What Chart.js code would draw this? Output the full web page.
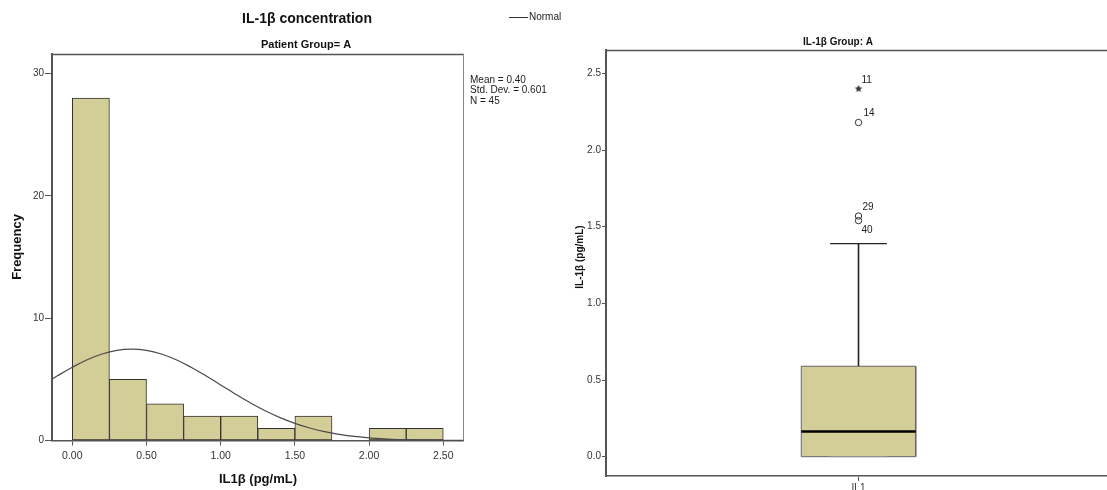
<!DOCTYPE html>
<html><head><meta charset="utf-8">
<script src="https://cdn.jsdelivr.net/npm/chart.js@4.4.0/dist/chart.umd.min.js"></script>
<style>
html,body{margin:0;padding:0;background:#fff;width:1107px;height:490px;overflow:hidden;position:relative}
#c1{position:absolute;left:0;top:0}
#c2{position:absolute;left:540px;top:0}
</style></head><body>
<canvas id="c1" width="600" height="490"></canvas>
<canvas id="c2" width="573" height="490"></canvas>
<script>
// ---------- Histogram data ----------
const binStarts   = [0, 0.25, 0.5, 0.75, 1.0, 1.25, 1.5, 1.75, 2.0, 2.25];
const binWidth    = 0.25;
const frequencies = [28, 5, 3, 2, 2, 1, 2, 0, 1, 1];
const curveX = [-0.15,-0.1,0,0.1,0.2,0.3,0.4,0.5,0.6,0.7,0.8,0.9,1.0,1.1,1.2,1.3,1.4,1.5,1.6,1.7,1.8,1.9,2.0,2.1,2.2,2.3,2.4,2.5,2.6,2.65];
const curveY = [4.91,5.29,5.99,6.60,7.07,7.37,7.47,7.37,7.07,6.60,5.99,5.29,4.54,3.79,3.08,2.43,1.87,1.40,1.02,0.72,0.50,0.33,0.22,0.14,0.08,0.05,0.03,0.02,0.01,0.01];
const xTickValues = [0, 0.5, 1, 1.5, 2, 2.5];
const xTickLabels = ['0.00','0.50','1.00','1.50','2.00','2.50'];
const yTickValues = [0, 10, 20, 30];
const statsLines  = ['Mean = 0.40', 'Std. Dev. = 0.601', 'N = 45'];

// ---------- Boxplot data ----------
const boxCategory  = ['IL1'];
const q1 = 0.0, median = 0.165, q3 = 0.59, whiskerLow = 0.0, whiskerHigh = 1.39;
const outlierValues = [2.18, 1.57, 1.54];
const outlierLabels = ['14', '29', '40'];
const extremeValues = [2.40];
const extremeLabels = ['11'];
const boxTickValues = [0, 0.5, 1, 1.5, 2, 2.5];
const boxTickLabels = ['0.0','0.5','1.0','1.5','2.0','2.5'];

Chart.defaults.font.family = "'Liberation Sans', Arial, sans-serif";
Chart.defaults.color = '#333';

const FILL = '#d3ce98';

// ---------- Left: histogram ----------
const leftDeco = {
  id: 'leftDeco',
  afterDraw(chart) {
    const {ctx, chartArea: a} = chart;
    ctx.save();
    ctx.strokeStyle = '#555'; ctx.lineWidth = 1.5;
    ctx.beginPath(); ctx.moveTo(a.left, a.top + 0.5); ctx.lineTo(a.right + 1, a.top + 0.5); ctx.stroke();
    ctx.strokeStyle = '#888'; ctx.lineWidth = 1;
    ctx.beginPath(); ctx.moveTo(a.right + 0.5, a.top); ctx.lineTo(a.right + 0.5, a.bottom); ctx.stroke();
    ctx.fillStyle = '#111'; ctx.textBaseline = 'middle'; ctx.textAlign = 'center';
    ctx.font = "bold 14px 'Liberation Sans', Arial, sans-serif";
    ctx.fillText('IL-1β concentration', 307, 19);
    ctx.font = "bold 11px 'Liberation Sans', Arial, sans-serif";
    ctx.fillText('Patient Group= A', 306, 45);
    ctx.font = "bold 13px 'Liberation Sans', Arial, sans-serif";
    ctx.fillText('IL1β (pg/mL)', 258, 479);
    ctx.save(); ctx.translate(17, 247); ctx.rotate(-Math.PI/2);
    ctx.fillText('Frequency', 0, 0); ctx.restore();
    // legend
    ctx.strokeStyle = '#333'; ctx.lineWidth = 1;
    ctx.beginPath(); ctx.moveTo(509, 17.5); ctx.lineTo(528, 17.5); ctx.stroke();
    ctx.textAlign = 'left'; ctx.fillStyle = '#222';
    ctx.font = "10px 'Liberation Sans', Arial, sans-serif";
    ctx.fillText('Normal', 529, 17.5);
    statsLines.forEach((s, i) => ctx.fillText(s, 470, 80 + i * 10.5));
    ctx.restore();
  }
};

new Chart(document.getElementById('c1'), {
  type: 'bar',
  data: {
    datasets: [
      {
        type: 'line',
        order: 1,
        data: curveX.map((x, i) => ({x, y: curveY[i]})),
        borderColor: '#4a4a4a', borderWidth: 1.2,
        pointRadius: 0, tension: 0.4, fill: false
      },
      {
        type: 'bar',
        order: 2,
        data: binStarts.map((b, i) => ({x: b + binWidth / 2, y: frequencies[i]})),
        backgroundColor: FILL, borderColor: '#333', borderWidth: 1,
        borderSkipped: false, barPercentage: 1, categoryPercentage: 1
      }
    ]
  },
  options: {
    responsive: false, animation: false, devicePixelRatio: 1, events: [],
    layout: {padding: {left: 0, top: 54, right: 137, bottom: 0}},
    plugins: {legend: {display: false}, tooltip: {enabled: false}},
    scales: {
      x: {
        type: 'linear', min: -0.137, max: 2.633, offset: false,
        afterBuildTicks: s => { s.ticks = xTickValues.map(v => ({value: v})); },
        afterFit: s => { s.height = 49.5; },
        ticks: {callback: (v, i) => xTickLabels[i], font: {size: 10.5}, color: '#333', padding: 4, maxRotation: 0, autoSkip: false},
        grid: {display: true, offset: false, drawOnChartArea: false, drawTicks: true, tickLength: 5, color: '#555'},
        border: {color: '#555', width: 1.5}
      },
      y: {
        min: 0, max: 31.6,
        afterBuildTicks: s => { s.ticks = yTickValues.map(v => ({value: v})); },
        afterFit: s => { s.width = 52; },
        ticks: {font: {size: 10}, color: '#333', padding: 1},
        grid: {display: true, drawOnChartArea: false, drawTicks: true, tickLength: 7, color: '#555'},
        border: {color: '#555', width: 2}
      }
    }
  },
  plugins: [leftDeco]
});

// ---------- Right: boxplot ----------
function makeStar(r, color) {
  const c = document.createElement('canvas');
  const s = Math.ceil(r * 2) + 2; c.width = s; c.height = s;
  const g = c.getContext('2d'); g.fillStyle = color; g.beginPath();
  for (let i = 0; i < 10; i++) {
    const a = -Math.PI / 2 + i * Math.PI / 5;
    const rr = i % 2 ? r * 0.45 : r;
    g.lineTo(s / 2 + rr * Math.cos(a), s / 2 + rr * Math.sin(a));
  }
  g.closePath(); g.fill();
  return c;
}

const BOX_HALF = 0.114, CAP_HALF = 0.0565, CENTER = 0.503;
const BL = CENTER - BOX_HALF, BR = CENTER + BOX_HALF;
const labelOffsets = {'11': [3, -9], '14': [5, -9], '29': [4, -9], '40': [3, 9.5]};

const rightDeco = {
  id: 'rightDeco',
  afterDraw(chart) {
    const {ctx, chartArea: a} = chart;
    ctx.save();
    ctx.strokeStyle = '#555'; ctx.lineWidth = 1.5;
    ctx.beginPath(); ctx.moveTo(a.left, a.top + 0.5); ctx.lineTo(a.right, a.top + 0.5); ctx.stroke();
    ctx.fillStyle = '#111'; ctx.textBaseline = 'middle'; ctx.textAlign = 'center';
    ctx.font = "bold 10px 'Liberation Sans', Arial, sans-serif";
    ctx.fillText('IL-1β Group: A', 298, 42);
    ctx.save(); ctx.translate(40, 257); ctx.rotate(-Math.PI/2);
    ctx.fillText('IL-1β (pg/mL)', 0, 0); ctx.restore();
    // outlier labels
    ctx.font = "10px 'Liberation Sans', Arial, sans-serif";
    ctx.textAlign = 'left'; ctx.fillStyle = '#222';
    chart.data.datasets.forEach((ds, di) => {
      if (!ds.pointLabels) return;
      chart.getDatasetMeta(di).data.forEach((el, i) => {
        const lab = ds.pointLabels[i];
        const off = labelOffsets[lab] || [4, -9];
        ctx.fillText(lab, el.x + off[0], el.y + off[1]);
      });
    });
    ctx.restore();
  }
};

new Chart(document.getElementById('c2'), {
  type: 'line',
  data: {
    datasets: [
      { // box fill
        order: 6,
        data: [{x: BL, y: q3}, {x: BR, y: q3}],
        fill: {value: q1}, backgroundColor: FILL,
        borderWidth: 0, pointRadius: 0
      },
      { // box outline
        order: 5,
        data: [{x: BL, y: q1}, {x: BL, y: q3}, {x: BR, y: q3}, {x: BR, y: q1}, {x: BL, y: q1}],
        borderColor: '#666', borderWidth: 1, pointRadius: 0, fill: false
      },
      { // upper whisker
        order: 4,
        data: [{x: CENTER, y: q3}, {x: CENTER, y: whiskerHigh}],
        borderColor: '#222', borderWidth: 1.6, pointRadius: 0, fill: false
      },
      {
        order: 4,
        data: [{x: CENTER - CAP_HALF, y: whiskerHigh}, {x: CENTER + CAP_HALF, y: whiskerHigh}],
        borderColor: '#222', borderWidth: 1.2, pointRadius: 0, fill: false
      },
      {
        order: 4,
        data: [{x: CENTER - CAP_HALF, y: whiskerLow}, {x: CENTER + CAP_HALF, y: whiskerLow}],
        borderColor: '#999', borderWidth: 1, pointRadius: 0, fill: false
      },
      { // median
        order: 3,
        data: [{x: BL, y: median}, {x: BR, y: median}],
        borderColor: '#000', borderWidth: 2.5, pointRadius: 0, fill: false
      },
      {
        type: 'scatter', order: 2,
        data: outlierValues.map(v => ({x: CENTER, y: v})),
        pointLabels: outlierLabels,
        pointStyle: 'circle', pointRadius: 3.2, borderWidth: 1,
        borderColor: '#333', backgroundColor: 'rgba(255,255,255,0)'
      },
      {
        type: 'scatter', order: 1,
        data: extremeValues.map(v => ({x: CENTER, y: v})),
        pointLabels: extremeLabels,
        pointStyle: makeStar(4, '#333'), pointRadius: 4
      }
    ]
  },
  options: {
    responsive: false, animation: false, devicePixelRatio: 1, events: [],
    layout: {padding: {left: 0, top: 50, right: 0, bottom: 0}},
    plugins: {legend: {display: false}, tooltip: {enabled: false}},
    scales: {
      x: {
        type: 'linear', min: 0, max: 1, offset: false,
        afterBuildTicks: s => { s.ticks = [{value: CENTER}]; },
        afterFit: s => { s.height = 14; s.paddingRight = 0; s.paddingLeft = 0; },
        ticks: {callback: () => boxCategory[0], font: {size: 10}, color: '#333', padding: 1, maxRotation: 0},
        grid: {display: true, drawOnChartArea: false, drawTicks: true, tickLength: 5, color: '#555'},
        border: {color: '#555', width: 1.5}
      },
      y: {
        min: -0.126, max: 2.653,
        afterBuildTicks: s => { s.ticks = boxTickValues.map(v => ({value: v})); },
        afterFit: s => { s.width = 66; },
        ticks: {callback: (v, i) => boxTickLabels[i], font: {size: 10}, color: '#333', padding: 1},
        grid: {display: true, drawOnChartArea: false, drawTicks: true, tickLength: 4, color: '#555'},
        border: {color: '#555', width: 2}
      }
    }
  },
  plugins: [rightDeco]
});
</script>
</body></html>
